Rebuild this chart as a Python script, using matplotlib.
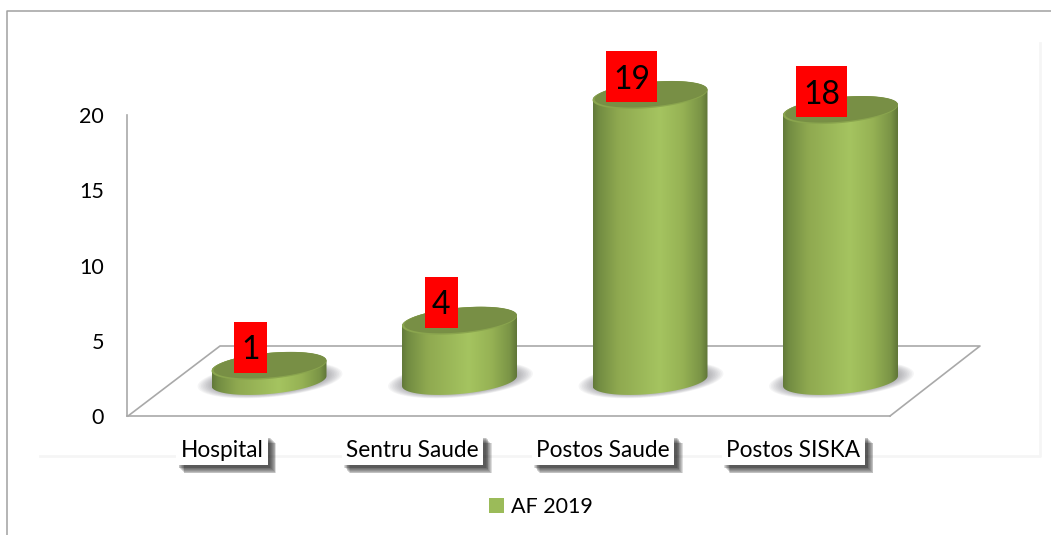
import numpy as np
import matplotlib
matplotlib.use('Agg')
import matplotlib.pyplot as plt
import matplotlib.patheffects as pe
from matplotlib.colors import LinearSegmentedColormap
from matplotlib.patches import Polygon, Rectangle, Patch
from matplotlib.lines import Line2D
from matplotlib.transforms import ScaledTranslation

categories = ['Hospital', 'Sentru Saude', 'Postos Saude', 'Postos SISKA']
values = [1, 4, 19, 18]
y_ticks = [0, 5, 10, 15, 20]
legend_label = 'AF 2019'

plt.rcParams['font.family'] = ['Lato', 'DejaVu Sans']

W, H = 1051, 535
# pixel frame of the axes, and the scale of the chart
left, right, top, bottom = 127, 1000, 30, 416
step_x = 190.5
step_y = 15.05
first_x = 269

fig = plt.figure(figsize=(W / 100, H / 100), dpi=100, facecolor='white')
ax = fig.add_axes([left / W, 1 - bottom / H, (right - left) / W, (bottom - top) / H])
ax.set_facecolor('none')
ax.set_xlim((left - first_x) / step_x, (right - first_x) / step_x)
ax.set_ylim(0, (bottom - top) / step_y)


def dx(p):
    return p / step_x


def dy(p):
    return p / step_y


def x_data(p):
    return (p - first_x) / step_x


def y_data(p):
    return (bottom - p) / step_y


# outer frame and the faint chart-area edge, both behind the axes
fig.add_artist(Line2D([7 / W, 7 / W, 1], [0, 1 - 11 / H, 1 - 11 / H], color='#a0a0a0', lw=1.1, zorder=-2))
fig.add_artist(Line2D([40 / W, 1040 / W, 1040 / W], [1 - 456 / H, 1 - 456 / H, 1 - 43 / H],
                      color='#f5f5f5', lw=2.0, zorder=-2))

# floor of the 3d plot
floor_color = '#a9a9a9'
ax.plot([x_data(128), x_data(220), x_data(980), x_data(890)],
        [y_data(416), y_data(346), y_data(346), y_data(416)],
        color=floor_color, lw=1.2, zorder=1, clip_on=False)

ax.spines['top'].set_visible(False)
ax.spines['right'].set_visible(False)
ax.spines['left'].set_color(floor_color)
ax.spines['bottom'].set_color(floor_color)
ax.spines['left'].set_linewidth(1.2)
ax.spines['bottom'].set_linewidth(1.2)
ax.spines['left'].set_bounds(0, 20)
ax.spines['bottom'].set_bounds(x_data(127), x_data(890))

side_cmap = LinearSegmentedColormap.from_list('side', [
    (0.0, '#62793a'), (0.05, '#728c42'), (0.22, '#8fa950'), (0.58, '#a5c460'),
    (0.78, '#96b254'), (0.94, '#7a9446'), (1.0, '#607638')])
gradient = np.linspace(0, 1, 256).reshape(1, -1)

half_w = dx(57.5)
half_h = dy(13)
base_y = y_data(381)
tilt = dy(5) / half_w  # ellipses lean up to the right


def ellipse(cx, cy, a, b, t):
    xs = cx + a * np.cos(t)
    ys = cy + b * np.sin(t) + tilt * (xs - cx)
    return xs, ys


for i, v in enumerate(values):
    top_y = base_y + v

    # soft shadow on the floor
    t = np.linspace(0, 2 * np.pi, 80)
    for k in np.linspace(1.26, 1.0, 10):
        xs, ys = ellipse(i + dx(1), base_y + dy(1), half_w * k, half_h * (k * 1.05), t)
        ax.fill(xs, ys, color='#606068', alpha=0.06, lw=0, zorder=2)

    # cylinder side: front of the base, back along the top rim
    t1 = np.linspace(np.pi, 2 * np.pi, 60)
    xb, yb = ellipse(i, base_y, half_w, half_h, t1)
    t2 = np.linspace(0, np.pi, 60)
    xt, yt = ellipse(i, top_y, half_w, half_h, t2)
    outline = Polygon(np.column_stack([np.r_[xb, xt], np.r_[yb, yt]]), closed=True,
                      facecolor='none', edgecolor='none', transform=ax.transData, zorder=3)
    ax.add_patch(outline)
    im = ax.imshow(gradient, cmap=side_cmap, aspect='auto', zorder=3,
                   extent=[i - half_w, i + half_w, base_y - dy(16), top_y + dy(16)])
    im.set_clip_path(outline)

    # lit rim, then the cap
    xs, ys = ellipse(i, top_y, half_w, half_h, t)
    ax.fill(xs, ys, color='#8aa54e', lw=0, zorder=4)
    xs, ys = ellipse(i + dx(1), top_y + dy(0.8), half_w * 0.98, half_h * 0.95, t)
    ax.fill(xs, ys, color='#788f45', lw=0, zorder=4)

    # red value box sits up and left of the cap
    box_w = dx(51 if v >= 10 else 33)
    box_h = dy(51)
    box_x = i - dx(18.5)
    box_y = top_y + dy(18.5)
    ax.add_patch(Rectangle((box_x - box_w / 2, box_y - box_h / 2), box_w, box_h,
                           facecolor='#ff0000', edgecolor='none', zorder=5))
    ax.text(box_x, box_y, str(v), fontsize=23, color='black', ha='center', va='center_baseline', zorder=6)

ax.set_xlim((left - first_x) / step_x, (right - first_x) / step_x)
ax.set_ylim(0, (bottom - top) / step_y)

ax.set_yticks(y_ticks)
ax.set_xticks(range(len(categories)))
ax.set_xticklabels(categories)
ax.tick_params(axis='y', length=0, pad=16.5, labelsize=15.5)
ax.tick_params(axis='x', length=0, pad=17, labelsize=16.3)

# labels sit left of their cylinders, on white plates with a drop shadow
label_shift = ScaledTranslation(-47 / 100, 0, fig.dpi_scale_trans)
shadow = [pe.SimplePatchShadow(offset=(o, -o), shadow_rgbFace='#1c1c1c', alpha=0.15)
          for o in (6.0, 5.4, 4.8, 4.2, 3.6, 3.0, 2.4, 1.8)]
for label in ax.get_xticklabels():
    label.set_transform(label.get_transform() + label_shift)
    label.set_bbox(dict(boxstyle='square,pad=0.2', facecolor='white', edgecolor='none'))
    label.get_bbox_patch().set_path_effects(shadow + [pe.Normal()])
    label.set_zorder(7)

handle = Patch(facecolor='#9bbb59', edgecolor='none')
fig.legend(handles=[handle], labels=[legend_label], loc='center', frameon=False,
           bbox_to_anchor=(541 / W, 1 - 507 / H), fontsize=15.5,
           handlelength=0.68, handleheight=0.68, handletextpad=0.35)

fig.savefig('out.png', dpi=100)
